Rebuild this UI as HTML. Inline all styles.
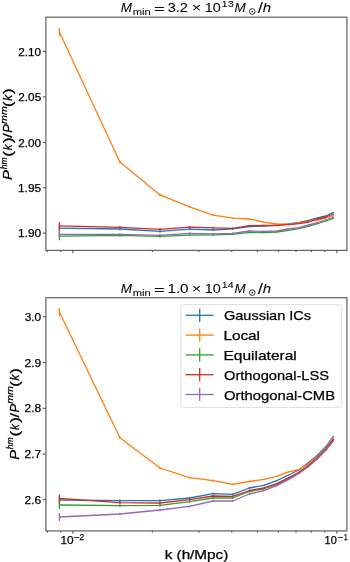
<!DOCTYPE html><html><head><meta charset="utf-8"><style>html,body{margin:0;padding:0;background:#fff;overflow:hidden;}svg{display:block;will-change:transform;}text{font-family:"Liberation Sans",sans-serif;fill:#000;stroke:#000;stroke-width:0.25px;}.tt text{stroke-width:0.05px;}</style></head><body>
<svg width="350" height="562" viewBox="0 0 350 562">
<rect width="350" height="562" fill="#fff"/>
<polyline points="59.40,228.20 119.89,229.00 159.97,231.40 189.61,229.10 213.14,230.00 232.65,228.80 249.32,226.50 263.87,226.10 276.78,225.00 288.38,224.00 298.92,222.40 308.57,220.40 317.47,218.00 325.73,216.00 333.43,212.40" fill="none" stroke="#1f77b4" stroke-width="1.3" stroke-linejoin="round"/>
<line x1="59.40" y1="224.20" x2="59.40" y2="232.20" stroke="#1f77b4" stroke-width="1.3"/>
<line x1="119.89" y1="227.70" x2="119.89" y2="230.30" stroke="#1f77b4" stroke-width="1.3"/>
<line x1="159.97" y1="230.10" x2="159.97" y2="232.70" stroke="#1f77b4" stroke-width="1.3"/>
<line x1="189.61" y1="228.10" x2="189.61" y2="230.10" stroke="#1f77b4" stroke-width="1.3"/>
<line x1="213.14" y1="229.00" x2="213.14" y2="231.00" stroke="#1f77b4" stroke-width="1.3"/>
<line x1="232.65" y1="228.00" x2="232.65" y2="229.60" stroke="#1f77b4" stroke-width="1.3"/>
<line x1="249.32" y1="225.80" x2="249.32" y2="227.20" stroke="#1f77b4" stroke-width="1.3"/>
<line x1="263.87" y1="225.50" x2="263.87" y2="226.70" stroke="#1f77b4" stroke-width="1.3"/>
<line x1="276.78" y1="224.50" x2="276.78" y2="225.50" stroke="#1f77b4" stroke-width="1.3"/>
<line x1="288.38" y1="223.50" x2="288.38" y2="224.50" stroke="#1f77b4" stroke-width="1.3"/>
<line x1="298.92" y1="221.90" x2="298.92" y2="222.90" stroke="#1f77b4" stroke-width="1.3"/>
<line x1="308.57" y1="219.90" x2="308.57" y2="220.90" stroke="#1f77b4" stroke-width="1.3"/>
<line x1="317.47" y1="217.50" x2="317.47" y2="218.50" stroke="#1f77b4" stroke-width="1.3"/>
<line x1="325.73" y1="215.50" x2="325.73" y2="216.50" stroke="#1f77b4" stroke-width="1.3"/>
<line x1="333.43" y1="211.90" x2="333.43" y2="212.90" stroke="#1f77b4" stroke-width="1.3"/>
<polyline points="59.40,32.00 119.89,162.00 159.97,194.90 189.61,206.90 213.14,215.10 232.65,218.20 249.32,219.00 263.87,222.10 276.78,224.00 288.38,224.40 298.92,223.00 308.57,221.40 317.47,220.00 325.73,218.00 333.43,215.60" fill="none" stroke="#ff7f0e" stroke-width="1.3" stroke-linejoin="round"/>
<line x1="59.40" y1="28.00" x2="59.40" y2="36.00" stroke="#ff7f0e" stroke-width="1.3"/>
<line x1="119.89" y1="160.70" x2="119.89" y2="163.30" stroke="#ff7f0e" stroke-width="1.3"/>
<line x1="159.97" y1="193.60" x2="159.97" y2="196.20" stroke="#ff7f0e" stroke-width="1.3"/>
<line x1="189.61" y1="205.90" x2="189.61" y2="207.90" stroke="#ff7f0e" stroke-width="1.3"/>
<line x1="213.14" y1="214.10" x2="213.14" y2="216.10" stroke="#ff7f0e" stroke-width="1.3"/>
<line x1="232.65" y1="217.40" x2="232.65" y2="219.00" stroke="#ff7f0e" stroke-width="1.3"/>
<line x1="249.32" y1="218.30" x2="249.32" y2="219.70" stroke="#ff7f0e" stroke-width="1.3"/>
<line x1="263.87" y1="221.50" x2="263.87" y2="222.70" stroke="#ff7f0e" stroke-width="1.3"/>
<line x1="276.78" y1="223.50" x2="276.78" y2="224.50" stroke="#ff7f0e" stroke-width="1.3"/>
<line x1="288.38" y1="223.90" x2="288.38" y2="224.90" stroke="#ff7f0e" stroke-width="1.3"/>
<line x1="298.92" y1="222.50" x2="298.92" y2="223.50" stroke="#ff7f0e" stroke-width="1.3"/>
<line x1="308.57" y1="220.90" x2="308.57" y2="221.90" stroke="#ff7f0e" stroke-width="1.3"/>
<line x1="317.47" y1="219.50" x2="317.47" y2="220.50" stroke="#ff7f0e" stroke-width="1.3"/>
<line x1="325.73" y1="217.50" x2="325.73" y2="218.50" stroke="#ff7f0e" stroke-width="1.3"/>
<line x1="333.43" y1="215.10" x2="333.43" y2="216.10" stroke="#ff7f0e" stroke-width="1.3"/>
<polyline points="59.40,236.20 119.89,235.30 159.97,236.40 189.61,235.10 213.14,234.80 232.65,234.30 249.32,232.40 263.87,232.60 276.78,232.00 288.38,230.40 298.92,228.60 308.57,226.40 317.47,223.60 325.73,221.00 333.43,218.40" fill="none" stroke="#2ca02c" stroke-width="1.3" stroke-linejoin="round"/>
<line x1="59.40" y1="232.20" x2="59.40" y2="240.20" stroke="#2ca02c" stroke-width="1.3"/>
<line x1="119.89" y1="234.00" x2="119.89" y2="236.60" stroke="#2ca02c" stroke-width="1.3"/>
<line x1="159.97" y1="235.10" x2="159.97" y2="237.70" stroke="#2ca02c" stroke-width="1.3"/>
<line x1="189.61" y1="234.10" x2="189.61" y2="236.10" stroke="#2ca02c" stroke-width="1.3"/>
<line x1="213.14" y1="233.80" x2="213.14" y2="235.80" stroke="#2ca02c" stroke-width="1.3"/>
<line x1="232.65" y1="233.50" x2="232.65" y2="235.10" stroke="#2ca02c" stroke-width="1.3"/>
<line x1="249.32" y1="231.70" x2="249.32" y2="233.10" stroke="#2ca02c" stroke-width="1.3"/>
<line x1="263.87" y1="232.00" x2="263.87" y2="233.20" stroke="#2ca02c" stroke-width="1.3"/>
<line x1="276.78" y1="231.50" x2="276.78" y2="232.50" stroke="#2ca02c" stroke-width="1.3"/>
<line x1="288.38" y1="229.90" x2="288.38" y2="230.90" stroke="#2ca02c" stroke-width="1.3"/>
<line x1="298.92" y1="228.10" x2="298.92" y2="229.10" stroke="#2ca02c" stroke-width="1.3"/>
<line x1="308.57" y1="225.90" x2="308.57" y2="226.90" stroke="#2ca02c" stroke-width="1.3"/>
<line x1="317.47" y1="223.10" x2="317.47" y2="224.10" stroke="#2ca02c" stroke-width="1.3"/>
<line x1="325.73" y1="220.50" x2="325.73" y2="221.50" stroke="#2ca02c" stroke-width="1.3"/>
<line x1="333.43" y1="217.90" x2="333.43" y2="218.90" stroke="#2ca02c" stroke-width="1.3"/>
<polyline points="59.40,225.90 119.89,227.30 159.97,229.30 189.61,227.10 213.14,227.80 232.65,228.30 249.32,225.70 263.87,225.40 276.78,225.60 288.38,224.60 298.92,223.60 308.57,222.00 317.47,219.00 325.73,217.00 333.43,214.00" fill="none" stroke="#d62728" stroke-width="1.3" stroke-linejoin="round"/>
<line x1="59.40" y1="221.90" x2="59.40" y2="229.90" stroke="#d62728" stroke-width="1.3"/>
<line x1="119.89" y1="226.00" x2="119.89" y2="228.60" stroke="#d62728" stroke-width="1.3"/>
<line x1="159.97" y1="228.00" x2="159.97" y2="230.60" stroke="#d62728" stroke-width="1.3"/>
<line x1="189.61" y1="226.10" x2="189.61" y2="228.10" stroke="#d62728" stroke-width="1.3"/>
<line x1="213.14" y1="226.80" x2="213.14" y2="228.80" stroke="#d62728" stroke-width="1.3"/>
<line x1="232.65" y1="227.50" x2="232.65" y2="229.10" stroke="#d62728" stroke-width="1.3"/>
<line x1="249.32" y1="225.00" x2="249.32" y2="226.40" stroke="#d62728" stroke-width="1.3"/>
<line x1="263.87" y1="224.80" x2="263.87" y2="226.00" stroke="#d62728" stroke-width="1.3"/>
<line x1="276.78" y1="225.10" x2="276.78" y2="226.10" stroke="#d62728" stroke-width="1.3"/>
<line x1="288.38" y1="224.10" x2="288.38" y2="225.10" stroke="#d62728" stroke-width="1.3"/>
<line x1="298.92" y1="223.10" x2="298.92" y2="224.10" stroke="#d62728" stroke-width="1.3"/>
<line x1="308.57" y1="221.50" x2="308.57" y2="222.50" stroke="#d62728" stroke-width="1.3"/>
<line x1="317.47" y1="218.50" x2="317.47" y2="219.50" stroke="#d62728" stroke-width="1.3"/>
<line x1="325.73" y1="216.50" x2="325.73" y2="217.50" stroke="#d62728" stroke-width="1.3"/>
<line x1="333.43" y1="213.50" x2="333.43" y2="214.50" stroke="#d62728" stroke-width="1.3"/>
<polyline points="59.40,234.30 119.89,234.30 159.97,235.40 189.61,233.40 213.14,233.90 232.65,233.40 249.32,231.00 263.87,231.40 276.78,231.00 288.38,229.00 298.92,227.60 308.57,225.00 317.47,222.60 325.73,220.00 333.43,217.00" fill="none" stroke="#9467bd" stroke-width="1.3" stroke-linejoin="round"/>
<line x1="59.40" y1="230.30" x2="59.40" y2="238.30" stroke="#9467bd" stroke-width="1.3"/>
<line x1="119.89" y1="233.00" x2="119.89" y2="235.60" stroke="#9467bd" stroke-width="1.3"/>
<line x1="159.97" y1="234.10" x2="159.97" y2="236.70" stroke="#9467bd" stroke-width="1.3"/>
<line x1="189.61" y1="232.40" x2="189.61" y2="234.40" stroke="#9467bd" stroke-width="1.3"/>
<line x1="213.14" y1="232.90" x2="213.14" y2="234.90" stroke="#9467bd" stroke-width="1.3"/>
<line x1="232.65" y1="232.60" x2="232.65" y2="234.20" stroke="#9467bd" stroke-width="1.3"/>
<line x1="249.32" y1="230.30" x2="249.32" y2="231.70" stroke="#9467bd" stroke-width="1.3"/>
<line x1="263.87" y1="230.80" x2="263.87" y2="232.00" stroke="#9467bd" stroke-width="1.3"/>
<line x1="276.78" y1="230.50" x2="276.78" y2="231.50" stroke="#9467bd" stroke-width="1.3"/>
<line x1="288.38" y1="228.50" x2="288.38" y2="229.50" stroke="#9467bd" stroke-width="1.3"/>
<line x1="298.92" y1="227.10" x2="298.92" y2="228.10" stroke="#9467bd" stroke-width="1.3"/>
<line x1="308.57" y1="224.50" x2="308.57" y2="225.50" stroke="#9467bd" stroke-width="1.3"/>
<line x1="317.47" y1="222.10" x2="317.47" y2="223.10" stroke="#9467bd" stroke-width="1.3"/>
<line x1="325.73" y1="219.50" x2="325.73" y2="220.50" stroke="#9467bd" stroke-width="1.3"/>
<line x1="333.43" y1="216.50" x2="333.43" y2="217.50" stroke="#9467bd" stroke-width="1.3"/>
<rect x="45.90" y="17.2" width="301.00" height="233.20" fill="none" stroke="#666" stroke-width="1.25"/>
<line x1="42.70" y1="51.40" x2="45.7" y2="51.40" stroke="#333" stroke-width="0.9"/>
<text x="18.31" y="55.50" font-size="11.5" textLength="22.85" lengthAdjust="spacingAndGlyphs">2.10</text>
<line x1="42.70" y1="96.90" x2="45.7" y2="96.90" stroke="#333" stroke-width="0.9"/>
<text x="18.31" y="101.00" font-size="11.5" textLength="22.89" lengthAdjust="spacingAndGlyphs">2.05</text>
<line x1="42.70" y1="142.40" x2="45.7" y2="142.40" stroke="#333" stroke-width="0.9"/>
<text x="18.31" y="146.50" font-size="11.5" textLength="22.85" lengthAdjust="spacingAndGlyphs">2.00</text>
<line x1="42.70" y1="187.80" x2="45.7" y2="187.80" stroke="#333" stroke-width="0.9"/>
<text x="17.99" y="191.90" font-size="11.5" textLength="23.21" lengthAdjust="spacingAndGlyphs">1.95</text>
<line x1="42.70" y1="233.10" x2="45.7" y2="233.10" stroke="#333" stroke-width="0.9"/>
<text x="17.99" y="237.20" font-size="11.5" textLength="23.17" lengthAdjust="spacingAndGlyphs">1.90</text>
<line x1="47.32" y1="250.4" x2="47.32" y2="252.1" stroke="#333" stroke-width="0.9"/>
<line x1="60.82" y1="250.4" x2="60.82" y2="252.1" stroke="#333" stroke-width="0.9"/>
<line x1="72.90" y1="250.4" x2="72.90" y2="253.20000000000002" stroke="#333" stroke-width="0.9"/>
<line x1="152.37" y1="250.4" x2="152.37" y2="252.1" stroke="#333" stroke-width="0.9"/>
<line x1="198.86" y1="250.4" x2="198.86" y2="252.1" stroke="#333" stroke-width="0.9"/>
<line x1="231.84" y1="250.4" x2="231.84" y2="252.1" stroke="#333" stroke-width="0.9"/>
<line x1="257.43" y1="250.4" x2="257.43" y2="252.1" stroke="#333" stroke-width="0.9"/>
<line x1="278.33" y1="250.4" x2="278.33" y2="252.1" stroke="#333" stroke-width="0.9"/>
<line x1="296.01" y1="250.4" x2="296.01" y2="252.1" stroke="#333" stroke-width="0.9"/>
<line x1="311.32" y1="250.4" x2="311.32" y2="252.1" stroke="#333" stroke-width="0.9"/>
<line x1="324.82" y1="250.4" x2="324.82" y2="252.1" stroke="#333" stroke-width="0.9"/>
<line x1="336.90" y1="250.4" x2="336.90" y2="253.20000000000002" stroke="#333" stroke-width="0.9"/>
<g class="tt">
<text x="120.89" y="12.00" font-size="13.4" font-style="italic" textLength="11.21" lengthAdjust="spacingAndGlyphs">M</text>
<text x="132.66" y="14.60" font-size="9.4" textLength="18.07" lengthAdjust="spacingAndGlyphs">min</text>
<text x="154.11" y="12.60" font-size="13.4" textLength="10.70" lengthAdjust="spacingAndGlyphs">=</text>
<text x="167.75" y="12.00" font-size="13.4" textLength="20.08" lengthAdjust="spacingAndGlyphs">3.2</text>
<text x="191.78" y="12.00" font-size="13.4" textLength="9.43" lengthAdjust="spacingAndGlyphs">×</text>
<text x="204.80" y="12.00" font-size="13.4" textLength="16.06" lengthAdjust="spacingAndGlyphs">10</text>
<text x="221.56" y="7.00" font-size="9.4" textLength="12.33" lengthAdjust="spacingAndGlyphs">13</text>
<text x="234.49" y="12.00" font-size="13.4" font-style="italic" textLength="11.21" lengthAdjust="spacingAndGlyphs">M</text>
<circle cx="252.2" cy="11.50" r="2.85" fill="none" stroke="#000" stroke-width="0.8"/>
<circle cx="252.2" cy="11.50" r="0.85" fill="#000"/>
<text x="257.80" y="13.00" font-size="14.0" textLength="5.20" lengthAdjust="spacingAndGlyphs" style="stroke-width:0">/</text>
<text x="262.75" y="12.00" font-size="13.4" font-style="italic" textLength="8.34" lengthAdjust="spacingAndGlyphs">h</text>
</g>
<g transform="translate(12.3,0) rotate(-90)">
<text x="-179.95" y="0.00" font-size="13.4" font-style="italic" textLength="9.85" lengthAdjust="spacingAndGlyphs">P</text>
<text x="-169.34" y="-5.20" font-size="9.4" font-style="italic" textLength="11.84" lengthAdjust="spacingAndGlyphs">hm</text>
<text x="-156.92" y="0.00" font-size="13.4" textLength="6.03" lengthAdjust="spacingAndGlyphs">(</text>
<text x="-150.19" y="0.00" font-size="13.4" font-style="italic" textLength="5.71" lengthAdjust="spacingAndGlyphs">k</text>
<text x="-142.90" y="0.00" font-size="13.4" textLength="5.53" lengthAdjust="spacingAndGlyphs">)</text>
<text x="-137.80" y="0.00" font-size="13.4" textLength="4.60" lengthAdjust="spacingAndGlyphs">/</text>
<text x="-132.79" y="0.00" font-size="13.4" font-style="italic" textLength="8.47" lengthAdjust="spacingAndGlyphs">P</text>
<text x="-123.98" y="-5.20" font-size="9.4" font-style="italic" textLength="17.77" lengthAdjust="spacingAndGlyphs">mm</text>
<text x="-107.03" y="0.00" font-size="13.4" textLength="5.53" lengthAdjust="spacingAndGlyphs">(</text>
<text x="-100.80" y="0.00" font-size="13.4" font-style="italic" textLength="5.90" lengthAdjust="spacingAndGlyphs">k</text>
<text x="-93.90" y="0.00" font-size="13.4" textLength="5.53" lengthAdjust="spacingAndGlyphs">)</text>
</g>
<polyline points="59.40,500.00 119.89,500.60 159.97,500.60 189.61,498.00 213.14,493.60 232.65,494.40 249.32,488.00 263.87,485.30 276.78,480.70 288.38,475.00 298.92,470.00 308.57,462.60 317.47,455.20 325.73,446.80 333.43,436.30" fill="none" stroke="#1f77b4" stroke-width="1.3" stroke-linejoin="round"/>
<line x1="59.40" y1="496.00" x2="59.40" y2="504.00" stroke="#1f77b4" stroke-width="1.3"/>
<line x1="119.89" y1="499.30" x2="119.89" y2="501.90" stroke="#1f77b4" stroke-width="1.3"/>
<line x1="159.97" y1="499.30" x2="159.97" y2="501.90" stroke="#1f77b4" stroke-width="1.3"/>
<line x1="189.61" y1="497.00" x2="189.61" y2="499.00" stroke="#1f77b4" stroke-width="1.3"/>
<line x1="213.14" y1="492.60" x2="213.14" y2="494.60" stroke="#1f77b4" stroke-width="1.3"/>
<line x1="232.65" y1="493.60" x2="232.65" y2="495.20" stroke="#1f77b4" stroke-width="1.3"/>
<line x1="249.32" y1="487.30" x2="249.32" y2="488.70" stroke="#1f77b4" stroke-width="1.3"/>
<line x1="263.87" y1="484.70" x2="263.87" y2="485.90" stroke="#1f77b4" stroke-width="1.3"/>
<line x1="276.78" y1="480.20" x2="276.78" y2="481.20" stroke="#1f77b4" stroke-width="1.3"/>
<line x1="288.38" y1="474.50" x2="288.38" y2="475.50" stroke="#1f77b4" stroke-width="1.3"/>
<line x1="298.92" y1="469.50" x2="298.92" y2="470.50" stroke="#1f77b4" stroke-width="1.3"/>
<line x1="308.57" y1="462.10" x2="308.57" y2="463.10" stroke="#1f77b4" stroke-width="1.3"/>
<line x1="317.47" y1="454.70" x2="317.47" y2="455.70" stroke="#1f77b4" stroke-width="1.3"/>
<line x1="325.73" y1="446.30" x2="325.73" y2="447.30" stroke="#1f77b4" stroke-width="1.3"/>
<line x1="333.43" y1="435.80" x2="333.43" y2="436.80" stroke="#1f77b4" stroke-width="1.3"/>
<polyline points="59.40,312.00 119.89,437.70 159.97,468.00 189.61,477.60 213.14,480.60 232.65,484.40 249.32,481.50 263.87,479.30 276.78,476.40 288.38,471.90 298.92,469.50 308.57,463.60 317.47,456.60 325.73,448.20 333.43,438.00" fill="none" stroke="#ff7f0e" stroke-width="1.3" stroke-linejoin="round"/>
<line x1="59.40" y1="308.00" x2="59.40" y2="316.00" stroke="#ff7f0e" stroke-width="1.3"/>
<line x1="119.89" y1="436.40" x2="119.89" y2="439.00" stroke="#ff7f0e" stroke-width="1.3"/>
<line x1="159.97" y1="466.70" x2="159.97" y2="469.30" stroke="#ff7f0e" stroke-width="1.3"/>
<line x1="189.61" y1="476.60" x2="189.61" y2="478.60" stroke="#ff7f0e" stroke-width="1.3"/>
<line x1="213.14" y1="479.60" x2="213.14" y2="481.60" stroke="#ff7f0e" stroke-width="1.3"/>
<line x1="232.65" y1="483.60" x2="232.65" y2="485.20" stroke="#ff7f0e" stroke-width="1.3"/>
<line x1="249.32" y1="480.80" x2="249.32" y2="482.20" stroke="#ff7f0e" stroke-width="1.3"/>
<line x1="263.87" y1="478.70" x2="263.87" y2="479.90" stroke="#ff7f0e" stroke-width="1.3"/>
<line x1="276.78" y1="475.90" x2="276.78" y2="476.90" stroke="#ff7f0e" stroke-width="1.3"/>
<line x1="288.38" y1="471.40" x2="288.38" y2="472.40" stroke="#ff7f0e" stroke-width="1.3"/>
<line x1="298.92" y1="469.00" x2="298.92" y2="470.00" stroke="#ff7f0e" stroke-width="1.3"/>
<line x1="308.57" y1="463.10" x2="308.57" y2="464.10" stroke="#ff7f0e" stroke-width="1.3"/>
<line x1="317.47" y1="456.10" x2="317.47" y2="457.10" stroke="#ff7f0e" stroke-width="1.3"/>
<line x1="325.73" y1="447.70" x2="325.73" y2="448.70" stroke="#ff7f0e" stroke-width="1.3"/>
<line x1="333.43" y1="437.50" x2="333.43" y2="438.50" stroke="#ff7f0e" stroke-width="1.3"/>
<polyline points="59.40,505.00 119.89,505.60 159.97,505.40 189.61,501.60 213.14,498.00 232.65,498.00 249.32,491.50 263.87,489.00 276.78,484.50 288.38,478.80 298.92,472.80 308.57,465.80 317.47,458.40 325.73,450.00 333.43,440.20" fill="none" stroke="#2ca02c" stroke-width="1.3" stroke-linejoin="round"/>
<line x1="59.40" y1="501.00" x2="59.40" y2="509.00" stroke="#2ca02c" stroke-width="1.3"/>
<line x1="119.89" y1="504.30" x2="119.89" y2="506.90" stroke="#2ca02c" stroke-width="1.3"/>
<line x1="159.97" y1="504.10" x2="159.97" y2="506.70" stroke="#2ca02c" stroke-width="1.3"/>
<line x1="189.61" y1="500.60" x2="189.61" y2="502.60" stroke="#2ca02c" stroke-width="1.3"/>
<line x1="213.14" y1="497.00" x2="213.14" y2="499.00" stroke="#2ca02c" stroke-width="1.3"/>
<line x1="232.65" y1="497.20" x2="232.65" y2="498.80" stroke="#2ca02c" stroke-width="1.3"/>
<line x1="249.32" y1="490.80" x2="249.32" y2="492.20" stroke="#2ca02c" stroke-width="1.3"/>
<line x1="263.87" y1="488.40" x2="263.87" y2="489.60" stroke="#2ca02c" stroke-width="1.3"/>
<line x1="276.78" y1="484.00" x2="276.78" y2="485.00" stroke="#2ca02c" stroke-width="1.3"/>
<line x1="288.38" y1="478.30" x2="288.38" y2="479.30" stroke="#2ca02c" stroke-width="1.3"/>
<line x1="298.92" y1="472.30" x2="298.92" y2="473.30" stroke="#2ca02c" stroke-width="1.3"/>
<line x1="308.57" y1="465.30" x2="308.57" y2="466.30" stroke="#2ca02c" stroke-width="1.3"/>
<line x1="317.47" y1="457.90" x2="317.47" y2="458.90" stroke="#2ca02c" stroke-width="1.3"/>
<line x1="325.73" y1="449.50" x2="325.73" y2="450.50" stroke="#2ca02c" stroke-width="1.3"/>
<line x1="333.43" y1="439.70" x2="333.43" y2="440.70" stroke="#2ca02c" stroke-width="1.3"/>
<polyline points="59.40,498.40 119.89,502.60 159.97,503.00 189.61,499.60 213.14,496.00 232.65,496.40 249.32,490.50 263.87,487.90 276.78,483.60 288.38,477.90 298.92,472.20 308.57,465.20 317.47,457.80 325.73,449.40 333.43,439.50" fill="none" stroke="#d62728" stroke-width="1.3" stroke-linejoin="round"/>
<line x1="59.40" y1="494.40" x2="59.40" y2="502.40" stroke="#d62728" stroke-width="1.3"/>
<line x1="119.89" y1="501.30" x2="119.89" y2="503.90" stroke="#d62728" stroke-width="1.3"/>
<line x1="159.97" y1="501.70" x2="159.97" y2="504.30" stroke="#d62728" stroke-width="1.3"/>
<line x1="189.61" y1="498.60" x2="189.61" y2="500.60" stroke="#d62728" stroke-width="1.3"/>
<line x1="213.14" y1="495.00" x2="213.14" y2="497.00" stroke="#d62728" stroke-width="1.3"/>
<line x1="232.65" y1="495.60" x2="232.65" y2="497.20" stroke="#d62728" stroke-width="1.3"/>
<line x1="249.32" y1="489.80" x2="249.32" y2="491.20" stroke="#d62728" stroke-width="1.3"/>
<line x1="263.87" y1="487.30" x2="263.87" y2="488.50" stroke="#d62728" stroke-width="1.3"/>
<line x1="276.78" y1="483.10" x2="276.78" y2="484.10" stroke="#d62728" stroke-width="1.3"/>
<line x1="288.38" y1="477.40" x2="288.38" y2="478.40" stroke="#d62728" stroke-width="1.3"/>
<line x1="298.92" y1="471.70" x2="298.92" y2="472.70" stroke="#d62728" stroke-width="1.3"/>
<line x1="308.57" y1="464.70" x2="308.57" y2="465.70" stroke="#d62728" stroke-width="1.3"/>
<line x1="317.47" y1="457.30" x2="317.47" y2="458.30" stroke="#d62728" stroke-width="1.3"/>
<line x1="325.73" y1="448.90" x2="325.73" y2="449.90" stroke="#d62728" stroke-width="1.3"/>
<line x1="333.43" y1="439.00" x2="333.43" y2="440.00" stroke="#d62728" stroke-width="1.3"/>
<polyline points="59.40,517.00 119.89,514.00 159.97,510.00 189.61,506.40 213.14,501.00 232.65,501.00 249.32,494.00 263.87,490.70 276.78,485.70 288.38,479.60 298.92,473.50 308.57,466.40 317.47,458.80 325.73,450.40 333.43,440.80" fill="none" stroke="#9467bd" stroke-width="1.3" stroke-linejoin="round"/>
<line x1="59.40" y1="513.00" x2="59.40" y2="521.00" stroke="#9467bd" stroke-width="1.3"/>
<line x1="119.89" y1="512.70" x2="119.89" y2="515.30" stroke="#9467bd" stroke-width="1.3"/>
<line x1="159.97" y1="508.70" x2="159.97" y2="511.30" stroke="#9467bd" stroke-width="1.3"/>
<line x1="189.61" y1="505.40" x2="189.61" y2="507.40" stroke="#9467bd" stroke-width="1.3"/>
<line x1="213.14" y1="500.00" x2="213.14" y2="502.00" stroke="#9467bd" stroke-width="1.3"/>
<line x1="232.65" y1="500.20" x2="232.65" y2="501.80" stroke="#9467bd" stroke-width="1.3"/>
<line x1="249.32" y1="493.30" x2="249.32" y2="494.70" stroke="#9467bd" stroke-width="1.3"/>
<line x1="263.87" y1="490.10" x2="263.87" y2="491.30" stroke="#9467bd" stroke-width="1.3"/>
<line x1="276.78" y1="485.20" x2="276.78" y2="486.20" stroke="#9467bd" stroke-width="1.3"/>
<line x1="288.38" y1="479.10" x2="288.38" y2="480.10" stroke="#9467bd" stroke-width="1.3"/>
<line x1="298.92" y1="473.00" x2="298.92" y2="474.00" stroke="#9467bd" stroke-width="1.3"/>
<line x1="308.57" y1="465.90" x2="308.57" y2="466.90" stroke="#9467bd" stroke-width="1.3"/>
<line x1="317.47" y1="458.30" x2="317.47" y2="459.30" stroke="#9467bd" stroke-width="1.3"/>
<line x1="325.73" y1="449.90" x2="325.73" y2="450.90" stroke="#9467bd" stroke-width="1.3"/>
<line x1="333.43" y1="440.30" x2="333.43" y2="441.30" stroke="#9467bd" stroke-width="1.3"/>
<rect x="45.90" y="297.7" width="301.00" height="233.20" fill="none" stroke="#666" stroke-width="1.25"/>
<line x1="42.70" y1="316.80" x2="45.7" y2="316.80" stroke="#333" stroke-width="0.9"/>
<text x="24.65" y="320.90" font-size="11.5" textLength="16.52" lengthAdjust="spacingAndGlyphs">3.0</text>
<line x1="42.70" y1="362.50" x2="45.7" y2="362.50" stroke="#333" stroke-width="0.9"/>
<text x="24.49" y="366.60" font-size="11.5" textLength="16.78" lengthAdjust="spacingAndGlyphs">2.9</text>
<line x1="42.70" y1="408.30" x2="45.7" y2="408.30" stroke="#333" stroke-width="0.9"/>
<text x="24.49" y="412.40" font-size="11.5" textLength="16.73" lengthAdjust="spacingAndGlyphs">2.8</text>
<line x1="42.70" y1="454.00" x2="45.7" y2="454.00" stroke="#333" stroke-width="0.9"/>
<text x="24.49" y="458.10" font-size="11.5" textLength="16.82" lengthAdjust="spacingAndGlyphs">2.7</text>
<line x1="42.70" y1="499.70" x2="45.7" y2="499.70" stroke="#333" stroke-width="0.9"/>
<text x="24.49" y="503.80" font-size="11.5" textLength="16.73" lengthAdjust="spacingAndGlyphs">2.6</text>
<line x1="47.32" y1="530.9" x2="47.32" y2="532.6" stroke="#333" stroke-width="0.9"/>
<line x1="60.82" y1="530.9" x2="60.82" y2="532.6" stroke="#333" stroke-width="0.9"/>
<line x1="72.90" y1="530.9" x2="72.90" y2="533.6999999999999" stroke="#333" stroke-width="0.9"/>
<line x1="152.37" y1="530.9" x2="152.37" y2="532.6" stroke="#333" stroke-width="0.9"/>
<line x1="198.86" y1="530.9" x2="198.86" y2="532.6" stroke="#333" stroke-width="0.9"/>
<line x1="231.84" y1="530.9" x2="231.84" y2="532.6" stroke="#333" stroke-width="0.9"/>
<line x1="257.43" y1="530.9" x2="257.43" y2="532.6" stroke="#333" stroke-width="0.9"/>
<line x1="278.33" y1="530.9" x2="278.33" y2="532.6" stroke="#333" stroke-width="0.9"/>
<line x1="296.01" y1="530.9" x2="296.01" y2="532.6" stroke="#333" stroke-width="0.9"/>
<line x1="311.32" y1="530.9" x2="311.32" y2="532.6" stroke="#333" stroke-width="0.9"/>
<line x1="324.82" y1="530.9" x2="324.82" y2="532.6" stroke="#333" stroke-width="0.9"/>
<line x1="336.90" y1="530.9" x2="336.90" y2="533.6999999999999" stroke="#333" stroke-width="0.9"/>
<g class="tt">
<text x="120.89" y="293.10" font-size="13.4" font-style="italic" textLength="11.21" lengthAdjust="spacingAndGlyphs">M</text>
<text x="132.66" y="295.70" font-size="9.4" textLength="18.07" lengthAdjust="spacingAndGlyphs">min</text>
<text x="154.11" y="293.70" font-size="13.4" textLength="10.70" lengthAdjust="spacingAndGlyphs">=</text>
<text x="167.44" y="293.10" font-size="13.4" textLength="21.15" lengthAdjust="spacingAndGlyphs">1.0</text>
<text x="191.78" y="293.10" font-size="13.4" textLength="9.43" lengthAdjust="spacingAndGlyphs">×</text>
<text x="204.80" y="293.10" font-size="13.4" textLength="16.06" lengthAdjust="spacingAndGlyphs">10</text>
<text x="221.78" y="288.10" font-size="9.4" textLength="11.93" lengthAdjust="spacingAndGlyphs">14</text>
<text x="234.49" y="293.10" font-size="13.4" font-style="italic" textLength="11.21" lengthAdjust="spacingAndGlyphs">M</text>
<circle cx="252.2" cy="292.60" r="2.85" fill="none" stroke="#000" stroke-width="0.8"/>
<circle cx="252.2" cy="292.60" r="0.85" fill="#000"/>
<text x="257.80" y="294.10" font-size="14.0" textLength="5.20" lengthAdjust="spacingAndGlyphs" style="stroke-width:0">/</text>
<text x="262.75" y="293.10" font-size="13.4" font-style="italic" textLength="8.34" lengthAdjust="spacingAndGlyphs">h</text>
</g>
<g transform="translate(18.5,0) rotate(-90)">
<text x="-459.75" y="0.00" font-size="13.4" font-style="italic" textLength="9.85" lengthAdjust="spacingAndGlyphs">P</text>
<text x="-449.14" y="-5.20" font-size="9.4" font-style="italic" textLength="11.84" lengthAdjust="spacingAndGlyphs">hm</text>
<text x="-436.72" y="0.00" font-size="13.4" textLength="6.03" lengthAdjust="spacingAndGlyphs">(</text>
<text x="-429.99" y="0.00" font-size="13.4" font-style="italic" textLength="5.71" lengthAdjust="spacingAndGlyphs">k</text>
<text x="-422.70" y="0.00" font-size="13.4" textLength="5.53" lengthAdjust="spacingAndGlyphs">)</text>
<text x="-417.60" y="0.00" font-size="13.4" textLength="4.60" lengthAdjust="spacingAndGlyphs">/</text>
<text x="-412.59" y="0.00" font-size="13.4" font-style="italic" textLength="8.47" lengthAdjust="spacingAndGlyphs">P</text>
<text x="-403.78" y="-5.20" font-size="9.4" font-style="italic" textLength="17.77" lengthAdjust="spacingAndGlyphs">mm</text>
<text x="-386.83" y="0.00" font-size="13.4" textLength="5.53" lengthAdjust="spacingAndGlyphs">(</text>
<text x="-380.60" y="0.00" font-size="13.4" font-style="italic" textLength="5.90" lengthAdjust="spacingAndGlyphs">k</text>
<text x="-373.70" y="0.00" font-size="13.4" textLength="5.53" lengthAdjust="spacingAndGlyphs">)</text>
</g>
<text x="60.40" y="544.10" font-size="11.5" textLength="13.16" lengthAdjust="spacingAndGlyphs">10</text>
<text x="73.87" y="540.30" font-size="8.2" textLength="6.25" lengthAdjust="spacingAndGlyphs">−</text>
<text x="79.58" y="540.30" font-size="8.2" textLength="4.64" lengthAdjust="spacingAndGlyphs">2</text>
<text x="324.57" y="544.10" font-size="11.5" textLength="12.16" lengthAdjust="spacingAndGlyphs">10</text>
<text x="338.12" y="540.30" font-size="8.2" textLength="5.65" lengthAdjust="spacingAndGlyphs">−</text>
<text x="344.12" y="540.30" font-size="8.2" textLength="3.48" lengthAdjust="spacingAndGlyphs">1</text>
<text x="164.67" y="558.80" font-size="13.4" textLength="63.68" lengthAdjust="spacingAndGlyphs">k (h/Mpc)</text>
<rect x="180.8" y="304.6" width="160.5" height="102.8" rx="2.5" ry="2.5" fill="#fff" fill-opacity="0.8" stroke="#dedede" stroke-width="1"/>
<line x1="185.6" y1="315.30" x2="213.6" y2="315.30" stroke="#1f77b4" stroke-width="1.3"/>
<line x1="199.7" y1="308.70" x2="199.7" y2="321.90" stroke="#1f77b4" stroke-width="1.3"/>
<text x="223.97" y="320.30" font-size="13.4" textLength="87.05" lengthAdjust="spacingAndGlyphs">Gaussian ICs</text>
<line x1="185.6" y1="335.10" x2="213.6" y2="335.10" stroke="#ff7f0e" stroke-width="1.3"/>
<line x1="199.7" y1="328.50" x2="199.7" y2="341.70" stroke="#ff7f0e" stroke-width="1.3"/>
<text x="223.44" y="340.10" font-size="13.4" textLength="36.58" lengthAdjust="spacingAndGlyphs">Local</text>
<line x1="185.6" y1="354.90" x2="213.6" y2="354.90" stroke="#2ca02c" stroke-width="1.3"/>
<line x1="199.7" y1="348.30" x2="199.7" y2="361.50" stroke="#2ca02c" stroke-width="1.3"/>
<text x="223.43" y="359.90" font-size="13.4" textLength="73.41" lengthAdjust="spacingAndGlyphs">Equilateral</text>
<line x1="185.6" y1="374.70" x2="213.6" y2="374.70" stroke="#d62728" stroke-width="1.3"/>
<line x1="199.7" y1="368.10" x2="199.7" y2="381.30" stroke="#d62728" stroke-width="1.3"/>
<text x="224.01" y="379.70" font-size="13.4" textLength="105.07" lengthAdjust="spacingAndGlyphs">Orthogonal-LSS</text>
<line x1="185.6" y1="394.50" x2="213.6" y2="394.50" stroke="#9467bd" stroke-width="1.3"/>
<line x1="199.7" y1="387.90" x2="199.7" y2="401.10" stroke="#9467bd" stroke-width="1.3"/>
<text x="224.00" y="399.50" font-size="13.4" textLength="111.08" lengthAdjust="spacingAndGlyphs">Orthogonal-CMB</text>
</svg></body></html>
